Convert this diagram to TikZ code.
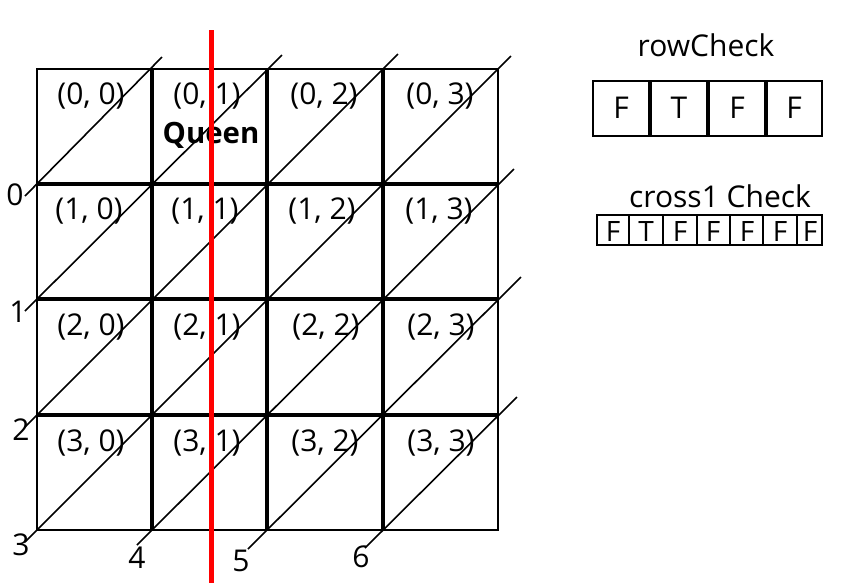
\documentclass[tikz,border=0pt]{standalone}
\usepackage{fontspec}
\setmainfont{Open Sans}
\begin{document}
\begin{tikzpicture}[x=0.75pt,y=-0.75pt]
\tikzstyle{every node}+=[inner sep=0pt]
\tikzstyle{cell}=[font=\fontsize{22.5}{26}\selectfont]
\tikzstyle{small}=[font=\fontsize{21}{24}\selectfont]
\useasboundingbox (0,0) rectangle (847,583);
% board
\draw [black, line width=1.5pt] (37,69) rectangle (498,530);
\draw [black, line width=2.6pt] (152,69) -- (152,530);
\draw [black, line width=2.6pt] (267,69) -- (267,530);
\draw [black, line width=2.6pt] (383,69) -- (383,530);
\draw [black, line width=2.6pt] (37,184) -- (498,184);
\draw [black, line width=2.6pt] (37,299) -- (498,299);
\draw [black, line width=2.6pt] (37,415) -- (498,415);
% diagonals
\draw [black, line width=1.2pt] (25,196) -- (162,57);
\draw [black, line width=1.2pt] (25,311) -- (282,55);
\draw [black, line width=1.2pt] (25,427) -- (398,54);
\draw [black, line width=1.2pt] (25,542) -- (511,56);
\draw [black, line width=1.2pt] (137,545) -- (514,169);
\draw [black, line width=1.2pt] (248,549) -- (521,277);
\draw [black, line width=1.2pt] (365,548) -- (517,397);
\node [cell] (d0) at (15,195) {0};
\node [cell] (d1) at (18,312) {1};
\node [cell] (d2) at (21,430) {2};
\node [cell] (d3) at (21,545) {3};
\node [cell] (d4) at (137,558) {4};
\node [cell] (d5) at (241,561) {5};
\node [cell] (d6) at (361,557) {6};
% cells
\node [cell] (c00) at (91,96) {(0, 0)};
\node [cell] (c01) at (207,96) {(0, 1)};
\node [cell] (c02) at (324,96) {(0, 2)};
\node [cell] (c03) at (440,96) {(0, 3)};
\node [cell] (c10) at (89,211) {(1, 0)};
\node [cell] (c11) at (205,211) {(1, 1)};
\node [cell] (c12) at (322,211) {(1, 2)};
\node [cell] (c13) at (439,211) {(1, 3)};
\node [cell] (c20) at (91,327) {(2, 0)};
\node [cell] (c21) at (207,327) {(2, 1)};
\node [cell] (c22) at (326,327) {(2, 2)};
\node [cell] (c23) at (441,327) {(2, 3)};
\node [cell] (c30) at (91,443) {(3, 0)};
\node [cell] (c31) at (207,443) {(3, 1)};
\node [cell] (c32) at (325,443) {(3, 2)};
\node [cell] (c33) at (441,443) {(3, 3)};
\node [font=\fontsize{22}{26}\selectfont\bfseries] (queen) at (211,135) {Queen};
% rowCheck
\node [cell] (rowlabel) at (706,45) {rowCheck};
\draw [black, line width=1.5pt] (593,81) rectangle (822,136);
\draw [black, line width=2.6pt] (650,81) -- (650,136);
\draw [black, line width=2.6pt] (708,81) -- (708,136);
\draw [black, line width=2.6pt] (766,81) -- (766,136);
\node [cell] (r0) at (621,108) {F};
\node [cell] (r1) at (679,108) {T};
\node [cell] (r2) at (737,108) {F};
\node [cell] (r3) at (794,108) {F};
% cross1 Check
\node [cell] (crosslabel) at (720,196) {cross1 Check};
\draw [black, line width=1.5pt] (597,215) rectangle (822,245);
\draw [black, line width=2.2pt] (629,215) -- (629,245);
\draw [black, line width=2.2pt] (663,215) -- (663,245);
\draw [black, line width=2.2pt] (697,215) -- (697,245);
\draw [black, line width=2.2pt] (730,215) -- (730,245);
\draw [black, line width=2.2pt] (763,215) -- (763,245);
\draw [black, line width=2.2pt] (797,215) -- (797,245);
\node [small] (x0) at (613,231) {F};
\node [small] (x1) at (646,231) {T};
\node [small] (x2) at (680,231) {F};
\node [small] (x3) at (713,231) {F};
\node [small] (x4) at (747,231) {F};
\node [small] (x5) at (780,231) {F};
\node [small] (x6) at (810,231) {F};
% queen column
\draw [red, line width=3.75pt] (211,30) -- (211,583);
\end{tikzpicture}
\end{document}
